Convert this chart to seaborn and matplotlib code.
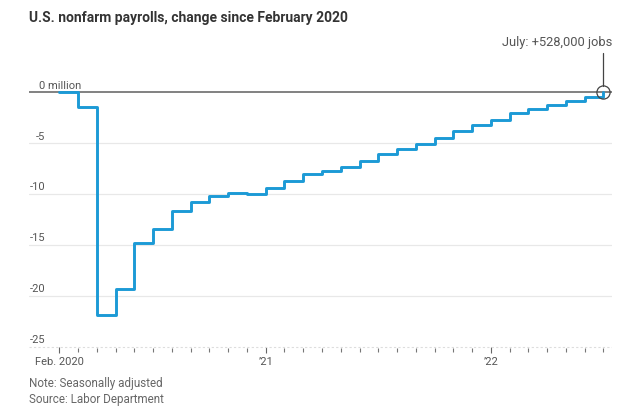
import numpy as np
import pandas as pd
import matplotlib
matplotlib.use("Agg")
import matplotlib.pyplot as plt
import seaborn as sns

# cumulative change in payrolls since Feb 2020, millions (Feb 2020 .. Jul 2022)
month_labels = ["Feb 2020", "Mar 2020", "Apr 2020", "May 2020", "Jun 2020", "Jul 2020",
                "Aug 2020", "Sep 2020", "Oct 2020", "Nov 2020", "Dec 2020",
                "Jan 2021", "Feb 2021", "Mar 2021", "Apr 2021", "May 2021", "Jun 2021",
                "Jul 2021", "Aug 2021", "Sep 2021", "Oct 2021", "Nov 2021", "Dec 2021",
                "Jan 2022", "Feb 2022", "Mar 2022", "Apr 2022", "May 2022", "Jun 2022",
                "Jul 2022"]
change = [0.0, -1.45, -21.9, -19.3, -14.8, -13.4, -11.7, -10.8, -10.2, -9.87, -9.97,
          -9.44, -8.69, -8.07, -7.70, -7.31, -6.72, -6.07, -5.57, -5.11, -4.46, -3.80,
          -3.25, -2.72, -2.07, -1.61, -1.21, -0.85, -0.43, -0.02]

tick_pos = [0, 11, 23]
tick_text = ["Feb. 2020", "\u201921", "\u201922"]
y_ticks = [0, -5, -10, -15, -20, -25]
y_text = ["0 million", "-5", "-10", "-15", "-20", "-25"]

df = pd.DataFrame({"month": np.arange(len(change)), "label": month_labels, "change": change})

sns.set_theme(style="white")
plt.rcParams["font.family"] = ["Roboto", "DejaVu Sans"]

W, H = 630, 416
fig = plt.figure(figsize=(6.3, 4.16), dpi=100)
# axes box in pixels: x 29..612, y 88..350
ax = fig.add_axes([29 / W, 1 - 350 / H, (612 - 29) / W, (350 - 88) / H])

blue = "#1c9ad6"
grey_txt = "#555555"

sns.lineplot(data=df, x="month", y="change", ax=ax, color=blue, linewidth=2.1,
             drawstyle="steps-post", zorder=3)

ax.set_xlim(-1.62, 29.46)
ax.set_ylim(-25.33, 0.42)

# grid lines
for v in y_ticks:
    if v == 0:
        ax.axhline(v, color="#777777", lw=1.3, zorder=2)
    elif v == -25:
        ax.axhline(v, color="#dddddd", lw=0.8, ls=(0, (2, 2)), zorder=1)
    else:
        ax.axhline(v, color="#e8e8e8", lw=0.9, zorder=1)

# y labels sitting above the gridlines
trans = ax.get_yaxis_transform()
for v, t in zip(y_ticks, y_text):
    if v == 0:
        ax.text(0.018, v + 0.15, t, transform=trans, ha="left", va="bottom",
                fontsize=8, color=grey_txt)
    else:
        ax.text(0.0275, v + 0.15, t, transform=trans, ha="right", va="bottom",
                fontsize=8, color=grey_txt)
ax.set_yticks([])
ax.set_ylabel("")
ax.set_xlabel("")

# x ticks
ax.set_xticks(tick_pos)
ax.set_xticklabels(tick_text, fontsize=8, color=grey_txt)
ax.set_xticks(df["month"], minor=True)
ax.tick_params(axis="x", which="major", length=4, width=0.8, color="#666666",
               direction="inout", pad=3, bottom=True)
ax.tick_params(axis="x", which="minor", length=2.5, width=0.8, color="#777777",
               direction="inout", bottom=True)

for s in ax.spines.values():
    s.set_visible(False)

# annotation for latest month
last_x = df["month"].iloc[-1]
last_y = df["change"].iloc[-1]
ax.plot([last_x], [last_y], marker="o", ms=9.5, mfc="none", mec="#444444", mew=0.9,
        zorder=4, clip_on=False)
ax.plot([last_x, last_x], [0.6, 3.9], color="#444444", lw=0.9, clip_on=False)
ax.text(last_x + 0.5, 4.3, "July: +528,000 jobs", ha="right", va="bottom",
        fontsize=9.3, color=grey_txt)

fig.text(29 / W, 1 - 18 / H, "U.S. nonfarm payrolls, change since February 2020",
         ha="left", va="center", fontsize=10, fontweight="bold", color="#333333")
fig.text(29 / W, 1 - 384 / H, "Note: Seasonally adjusted", ha="left", va="center",
         fontsize=8.4, color="#666666")
fig.text(29 / W, 1 - 400 / H, "Source: Labor Department", ha="left", va="center",
         fontsize=8.4, color="#666666")

fig.savefig("out.png", dpi=100, facecolor="white")
